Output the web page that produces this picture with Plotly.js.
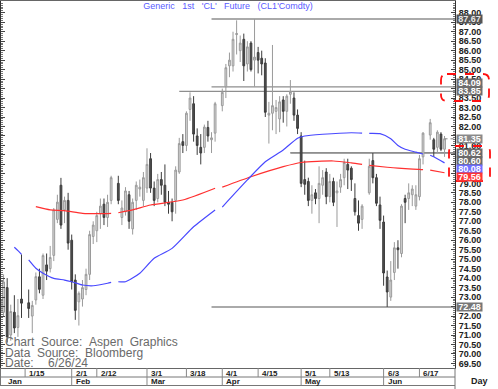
<!DOCTYPE html>
<html>
<head>
<meta charset="utf-8">
<script src="https://cdn.plot.ly/plotly-3.0.1.min.js"></script>
<style>html,body{margin:0;padding:0;background:#fff;}#chart{width:498px;height:389px;}</style>
</head>
<body>
<div id="chart"></div>
<script>
// ---------------- DATA ----------------
const dates = [
 '2024-01-02','2024-01-03','2024-01-04','2024-01-05','2024-01-08','2024-01-09','2024-01-10','2024-01-11','2024-01-12',
 '2024-01-16','2024-01-17','2024-01-18','2024-01-19','2024-01-22','2024-01-23','2024-01-24','2024-01-25','2024-01-26',
 '2024-01-29','2024-01-30','2024-01-31',
 '2024-02-01','2024-02-02','2024-02-05','2024-02-06','2024-02-07','2024-02-08','2024-02-09','2024-02-12','2024-02-13',
 '2024-02-14','2024-02-15','2024-02-16','2024-02-20','2024-02-21','2024-02-22','2024-02-23','2024-02-26','2024-02-27',
 '2024-02-28','2024-02-29',
 '2024-03-01','2024-03-04','2024-03-05','2024-03-06','2024-03-07','2024-03-08','2024-03-11','2024-03-12','2024-03-13',
 '2024-03-14','2024-03-15','2024-03-18','2024-03-19','2024-03-20','2024-03-21','2024-03-22','2024-03-25','2024-03-26',
 '2024-03-27','2024-03-28',
 '2024-04-01','2024-04-02','2024-04-03','2024-04-04','2024-04-05','2024-04-08','2024-04-09','2024-04-10','2024-04-11',
 '2024-04-12','2024-04-15','2024-04-16','2024-04-17','2024-04-18','2024-04-19','2024-04-22','2024-04-23','2024-04-24',
 '2024-04-25','2024-04-26','2024-04-29','2024-04-30',
 '2024-05-01','2024-05-02','2024-05-03','2024-05-06','2024-05-07','2024-05-08','2024-05-09','2024-05-10','2024-05-13',
 '2024-05-14','2024-05-15','2024-05-16','2024-05-17','2024-05-20','2024-05-21','2024-05-22','2024-05-23','2024-05-24',
 '2024-05-28','2024-05-29','2024-05-30','2024-05-31',
 '2024-06-03','2024-06-04','2024-06-05','2024-06-06','2024-06-07','2024-06-10','2024-06-11','2024-06-12','2024-06-13',
 '2024-06-14','2024-06-17','2024-06-18','2024-06-20','2024-06-21','2024-06-24','2024-06-25','2024-06-26'
];
const openP = [
 71.6,70.6,72.8,72.2,73.5,71.0,72.2,71.4,72.9,
 72.7,72.0,72.85,74.07,73.1,74.7,74.5,75.2,77.1,
 78.9,77.6,78.1,
 76.0,73.9,72.75,72.9,73.4,74.2,76.2,76.5,77.4,
 77.9,77.2,78.1,79.0,77.2,77.5,78.4,76.6,78.1,
 78.7,78.1,
 78.75,80.3,78.75,78.2,79.2,78.9,78.0,78.0,78.1,
 79.6,81.2,81.0,82.9,83.2,81.5,80.9,80.9,81.95,
 81.3,81.65,
 83.1,84.1,85.2,85.2,86.85,86.0,86.6,85.3,86.4,
 85.5,85.9,85.6,85.35,82.6,82.7,82.8,82.4,83.4,
 82.8,83.7,83.5,82.6,
 81.5,79.2,79.1,78.1,78.5,78.2,78.9,79.6,78.3,
 79.1,78.5,78.8,79.3,80.0,79.8,78.2,77.3,77.1,
 78.5,80.2,79.3,77.86,
 76.96,74.06,73.0,74.3,75.6,75.3,78.2,78.2,78.4,
 77.8,78.3,80.4,81.55,81.3,80.9,81.6,80.8
];
const highP = [
 73.1,73.1,74.1,74.2,74.0,72.6,73.1,72.9,75.25,
 73.4,72.8,74.3,74.5,75.3,75.3,75.7,77.7,78.4,
 79.29,78.3,78.5,
 76.3,74.2,73.3,73.9,74.5,76.5,77.0,77.5,78.2,
 78.2,78.4,79.4,79.4,78.1,78.8,78.6,78.2,79.1,
 79.2,79.6,
 80.85,80.6,79.1,79.5,79.6,80.0,78.6,78.2,79.9,
 81.4,81.6,82.8,83.8,83.6,81.9,81.6,82.1,82.3,
 81.7,83.3,
 84.0,85.3,85.9,87.0,87.6,86.8,86.9,86.5,86.5,
 87.67,86.2,86.0,85.6,83.3,86.3,83.4,83.6,83.6,
 83.7,84.45,83.8,82.9,
 81.7,80.2,79.3,78.9,78.7,79.9,79.7,79.8,79.5,
 79.3,79.1,79.5,80.3,80.3,79.9,79.0,78.1,77.9,
 80.3,80.6,79.5,78.3,
 77.3,74.4,74.9,75.9,76.0,77.9,78.4,79.0,78.9,
 78.9,80.5,81.7,82.4,81.4,81.8,81.7,81.5
];
const lowP = [
 69.3,70.3,71.4,72.0,70.6,70.7,71.1,70.9,71.9,
 71.9,71.1,72.6,73.2,72.9,73.9,74.3,74.9,76.9,
 76.6,76.9,75.5,
 73.4,71.8,71.5,72.5,73.1,73.9,75.8,75.9,76.6,
 76.8,76.7,77.9,77.9,76.8,77.3,76.6,76.3,77.6,
 78.3,77.8,
 78.5,78.5,77.8,78.0,78.4,77.8,77.4,77.0,77.4,
 79.5,80.6,80.7,82.3,81.2,80.5,80.0,80.6,81.2,
 80.6,81.2,
 82.8,83.5,84.6,84.9,85.8,85.4,84.4,84.9,84.9,
 84.1,84.8,84.7,82.5,81.1,81.8,81.6,81.7,82.2,
 82.0,83.2,82.3,81.6,
 78.8,78.4,77.8,77.4,77.9,76.9,78.4,77.9,78.0,
 77.8,76.7,78.5,78.9,78.7,78.6,77.3,76.5,76.6,
 78.4,79.0,77.8,76.6,
 73.6,72.48,72.8,73.9,74.5,75.1,76.9,77.6,77.8,
 77.6,78.1,80.0,81.3,80.4,80.6,80.7,80.4
];
const closeP = [
 70.4,72.7,72.2,73.8,70.9,72.24,71.37,72.02,72.68,
 72.4,72.56,74.08,73.41,75.19,74.37,75.09,77.6,78.01,
 76.8,78.1,75.85,
 73.8,72.3,73.2,73.5,74.2,76.3,76.8,77.3,77.8,
 77.2,78.0,79.3,78.1,77.7,78.6,77.0,78.0,78.9,
 78.8,79.3,
 80.0,78.75,78.1,79.2,78.9,78.0,77.9,77.5,79.7,
 81.1,81.0,82.7,83.5,81.6,81.0,80.6,81.97,81.5,
 81.4,83.2,
 83.8,85.1,85.5,86.6,86.9,86.4,85.2,86.2,85.0,
 85.66,85.5,85.3,82.75,82.7,83.1,83.0,83.3,82.8,
 83.6,83.85,82.6,81.9,
 79.0,78.95,78.1,78.4,78.2,79.0,79.3,78.3,79.1,
 78.0,78.6,79.2,80.1,79.7,79.2,77.5,76.9,77.8,
 79.9,79.3,77.95,77.05,
 74.27,73.27,73.9,75.6,75.5,77.8,78.0,78.5,78.7,
 78.4,80.3,81.65,82.2,80.8,81.7,80.8,81.35
];

// moving averages (null = holiday gap)
const maBlueDates = ['2024-01-10','2024-01-11','2024-01-12','2024-01-15','2024-01-16','2024-01-18','2024-01-22','2024-01-25',
 '2024-01-30','2024-02-01','2024-02-06','2024-02-09','2024-02-15','2024-02-16','2024-02-19','2024-02-20','2024-02-22',
 '2024-02-28','2024-03-05','2024-03-12','2024-03-20','2024-03-28','2024-03-29','2024-04-01','2024-04-10','2024-04-17',
 '2024-04-24','2024-04-30','2024-05-02','2024-05-09','2024-05-21','2024-05-24','2024-05-27','2024-05-28','2024-05-31',
 '2024-06-05','2024-06-07','2024-06-11','2024-06-14','2024-06-18','2024-06-19','2024-06-20','2024-06-21','2024-06-26'];
const maBlue = [75.63,75.45,75.25,null,74.96,74.52,74.26,73.99,
 73.9,73.81,73.64,73.6,73.73,73.78,null,73.81,73.81,
 74.26,75.05,75.57,76.71,77.6,null,77.75,79.18,80.14,
 80.76,81.38,81.5,81.59,81.67,81.65,null,81.64,81.62,
 81.35,81.0,80.8,80.65,80.55,null,80.48,80.4,80.08];
const maRedDates = ['2024-01-18','2024-01-24','2024-01-30','2024-02-06','2024-02-13','2024-02-16','2024-02-19','2024-02-20',
 '2024-02-26','2024-03-04','2024-03-15','2024-03-28','2024-03-29','2024-04-01','2024-04-11','2024-04-24','2024-05-01',
 '2024-05-14','2024-05-21','2024-05-24','2024-05-27','2024-05-28','2024-06-04','2024-06-07','2024-06-17','2024-06-18',
 '2024-06-19','2024-06-20','2024-06-26'];
const maRed = [77.77,77.6,77.56,77.42,77.4,77.42,null,77.45,
 77.6,77.86,78.12,78.74,null,78.8,79.35,79.88,80.1,
 80.18,80.08,80.0,null,79.95,79.85,79.8,79.74,79.72,
 null,79.7,79.56];

// price levels (horizontal lines) and their start dates
const levelValues = [87.67, 84.09, 83.85, 80.62, 80.60, 72.48];
const levelStarts = ['2024-03-27','2024-03-27','2024-03-14','2024-04-26','2024-04-26','2024-03-27'];
const lastPrice = 81.35;

// right-axis value tags
const tagValues = [87.67, 84.09, 83.85, 81.35, 80.62, 80.60, 80.08, 79.56, 72.48];
const tagLabels = ['87.67','84.09','83.85','81.35','80.62','80.60','80.08','79.56','72.48'];

// right-axis price ticks (those fully hidden behind a tag carry no text)
const yTickMin = 69.5, yTickMax = 88.0, yTickStep = 0.5;
const hiddenTicks = [84.0, 81.5, 80.5, 80.0, 79.5, 72.5];

// bottom date axis labels
const tickDates = ['2024-01-15','2024-02-01','2024-02-12','2024-03-01','2024-03-18','2024-04-01','2024-04-15','2024-05-01','2024-05-13','2024-06-03','2024-06-17'];
const tickLabels = ['1/15','2/1','2/12','3/1','3/18','4/1','4/15','5/1','5/13','6/3','6/17'];
const monthDates = ['2024-02-01','2024-03-01','2024-04-01','2024-05-01','2024-06-03'];
const monthLabels = ['Feb','Mar','Apr','May','Jun'];

const titleText = "Generic&nbsp;&nbsp;&nbsp;1st&nbsp;&nbsp;&nbsp;'CL'&nbsp;&nbsp;&nbsp;Future&nbsp;&nbsp;&nbsp;(CL1'Comdty)";

// ---------------- STYLE / LAYOUT ----------------
const W = 498, H = 389, ML = 1, MR = 43, MT = 1, MB = 21;
const PW = W - ML - MR, PH = H - MT - MB;
const px2x = p => (p - ML) / PW;
const py2y = p => (H - MB - p) / PH;
const xEnd = '2024-06-28 22:00';
const xStart = '2024-01-04 06:40';
const yRange = [69.26, 88.62];
const FONT = 'Arial, "Liberation Sans", sans-serif';

const yTickVals = [], yTickText = [];
for (let v = yTickMin; v <= yTickMax + 1e-9; v += yTickStep) {
  const r = Math.round(v * 100) / 100;
  yTickVals.push(r);
  yTickText.push(hiddenTicks.some(h => Math.abs(h - r) < 1e-6) ? '' : r.toFixed(2));
}

const tagStyle = [
  {bg:'#555555', fg:'#e6e6e6', shift:0},
  {bg:'#6e6e6e', fg:'#ffffff', shift:4},
  {bg:'#6e6e6e', fg:'#ffffff', shift:0},
  {bg:'#8a8a8a', fg:'#ffffff', shift:0},
  {bg:'#6a6a6a', fg:'#ffffff', shift:0},
  {bg:'#6a6a6a', fg:'#ffffff', shift:-7.6},
  {bg:'#6f6fff', fg:'#ffffff', shift:-5.8},
  {bg:'#ff3535', fg:'#ffffff', shift:-3.9},
  {bg:'#777777', fg:'#ffffff', shift:0}
];

const traces = [
  {
    type:'candlestick', x:dates, open:openP, high:highP, low:lowP, close:closeP,
    increasing:{line:{color:'#9a9a9a', width:1}, fillcolor:'#dadada'},
    decreasing:{line:{color:'#3c3c3c', width:1}, fillcolor:'#505050'},
    whiskerwidth:0, hoverinfo:'skip', showlegend:false
  },
  {type:'scatter', mode:'lines', x:maRedDates, y:maRed, line:{color:'#ff3030', width:1.2, shape:'spline', smoothing:0.6}, connectgaps:false, hoverinfo:'skip', showlegend:false},
  {type:'scatter', mode:'lines', x:maBlueDates, y:maBlue, line:{color:'#4848ff', width:1.2, shape:'spline', smoothing:0.6}, connectgaps:false, hoverinfo:'skip', showlegend:false}
];

const shapes = [];
const annotations = [];

// level lines
levelValues.forEach((v,i) => {
  shapes.push({type:'line', xref:'x', yref:'y', x0:levelStarts[i], x1:xEnd, y0:v, y1:v, line:{color:'#8e8e8e', width:1.4}, layer:'below'});
});
// last price dotted leader
shapes.push({type:'line', xref:'x', yref:'y', x0:dates[dates.length-1], x1:xEnd, y0:lastPrice, y1:lastPrice, line:{color:'#888', width:1, dash:'dot'}});

// value tags on the right axis
tagValues.forEach((v,i) => {
  annotations.push({xref:'paper', yref:'y', x:1, y:v, xanchor:'left', yanchor:'middle', xshift:1, yshift:tagStyle[i].shift,
    text:tagLabels[i], showarrow:false, bgcolor:tagStyle[i].bg, borderpad:0, width:25, height:8,
    font:{family:FONT, size:9, color:tagStyle[i].fg, weight:'bold'}});
});

// red dashed rounded boxes around tag groups
function roundRect(x0, y0, x1, y1, r) {
  const X = p => px2x(p), Y = p => py2y(p);
  return `M${X(x0+r)},${Y(y0)} L${X(x1-r)},${Y(y0)} Q${X(x1)},${Y(y0)} ${X(x1)},${Y(y0+r)} ` +
         `L${X(x1)},${Y(y1-r)} Q${X(x1)},${Y(y1)} ${X(x1-r)},${Y(y1)} L${X(x0+r)},${Y(y1)} ` +
         `Q${X(x0)},${Y(y1)} ${X(x0)},${Y(y1-r)} L${X(x0)},${Y(y0+r)} Q${X(x0)},${Y(y0)} ${X(x0+r)},${Y(y0)} Z`;
}
shapes.push({type:'path', xref:'paper', yref:'paper', path:roundRect(441,74,489,101,6), line:{color:'#ff1010', width:1.8, dash:'dash'}});
shapes.push({type:'path', xref:'paper', yref:'paper', path:roundRect(449,146,490,181,6), line:{color:'#ff1010', width:1.8, dash:'dash'}});

// bottom two-row date axis
const rowTop = 368, rowMid = 377, rowBot = 385.5;
shapes.push({type:'line', xref:'paper', yref:'paper', x0:px2x(0), x1:1, y0:py2y(rowMid), y1:py2y(rowMid), line:{color:'#777', width:1}});
shapes.push({type:'line', xref:'paper', yref:'paper', x0:px2x(0), x1:1, y0:py2y(rowBot), y1:py2y(rowBot), line:{color:'#777', width:1}});
shapes.push({type:'line', xref:'paper', yref:'paper', x0:px2x(0.5), x1:px2x(0.5), y0:py2y(rowTop), y1:py2y(rowBot), line:{color:'#777', width:1}});
shapes.push({type:'line', xref:'paper', yref:'paper', x0:1, x1:1, y0:py2y(rowTop), y1:py2y(H), line:{color:'#777', width:1}});
tickDates.forEach((d,i) => {
  shapes.push({type:'line', xref:'x', yref:'paper', x0:d, x1:d, y0:py2y(rowTop), y1:py2y(rowMid), line:{color:'#888', width:1}});
  annotations.push({xref:'x', yref:'paper', x:d, y:py2y(373), xanchor:'left', yanchor:'middle', xshift:2, text:tickLabels[i], showarrow:false,
    font:{family:FONT, size:8, color:'#222', weight:'bold'}});
});
monthDates.forEach((d,i) => {
  shapes.push({type:'line', xref:'x', yref:'paper', x0:d, x1:d, y0:py2y(rowMid), y1:py2y(rowBot), line:{color:'#888', width:1}});
  annotations.push({xref:'x', yref:'paper', x:d, y:py2y(381.3), xanchor:'left', yanchor:'middle', xshift:2, text:monthLabels[i], showarrow:false,
    font:{family:FONT, size:8, color:'#222', weight:'bold'}});
});
annotations.push({xref:'paper', yref:'paper', x:px2x(6), y:py2y(381.3), xanchor:'left', yanchor:'middle', text:'Jan', showarrow:false,
  font:{family:FONT, size:8, color:'#222', weight:'bold'}});
annotations.push({xref:'paper', yref:'paper', x:px2x(479), y:py2y(381), xanchor:'center', yanchor:'middle', text:'Day', showarrow:false,
  font:{family:FONT, size:9, color:'#222', weight:'bold'}});

// source text block
const srcLines = ['Chart&nbsp;&nbsp;Source:&nbsp;&nbsp;Aspen&nbsp;&nbsp;Graphics', 'Data&nbsp;&nbsp;Source:&nbsp;&nbsp;Bloomberg'];
const srcY = [342, 352.5];
srcLines.forEach((t,i) => {
  annotations.push({xref:'paper', yref:'paper', x:px2x(3), y:py2y(srcY[i]), xanchor:'left', yanchor:'middle', text:t, showarrow:false,
    font:{family:FONT, size:12, color:'#6a6a6a'}});
});
annotations.push({xref:'paper', yref:'paper', x:px2x(3), y:py2y(363), xanchor:'left', yanchor:'middle', text:'Date:', showarrow:false,
  font:{family:FONT, size:12, color:'#6a6a6a'}});
annotations.push({xref:'paper', yref:'paper', x:px2x(46), y:py2y(363), xanchor:'left', yanchor:'middle', text:'6/26/24', showarrow:false,
  font:{family:FONT, size:12, color:'#6a6a6a'}});

const layout = {
  width:W, height:H, margin:{l:ML, r:MR, t:MT, b:MB, pad:0},
  paper_bgcolor:'#ffffff', plot_bgcolor:'#ffffff',
  title:{text:titleText, x:228/W, xanchor:'center', xref:'container', y:1-6/H, yanchor:'middle', yref:'container',
    font:{family:FONT, size:9, color:'#5a5aff'}},
  xaxis:{type:'date', range:[xStart, xEnd], rangebreaks:[{bounds:['sat','mon']}], showticklabels:false, ticks:'',
    showgrid:false, zeroline:false, showline:true, linecolor:'#666', linewidth:1, mirror:true, rangeslider:{visible:false}, fixedrange:true},
  yaxis:{side:'right', range:yRange, tickmode:'array', tickvals:yTickVals, ticktext:yTickText, ticks:'inside', ticklen:4, tickcolor:'#444', tickwidth:1,
    minor:{dtick:0.1, ticks:'inside', ticklen:2, tickcolor:'#777'},
    showline:true, linecolor:'#333', linewidth:1, mirror:'ticks', showgrid:false, zeroline:false, ticklabelstandoff:1,
    tickfont:{family:FONT, size:9, color:'#222', weight:'bold'}, fixedrange:true},
  shapes:shapes, annotations:annotations, showlegend:false
};

Plotly.newPlot('chart', traces, layout, {staticPlot:true, displayModeBar:false});
</script>
</body>
</html>
